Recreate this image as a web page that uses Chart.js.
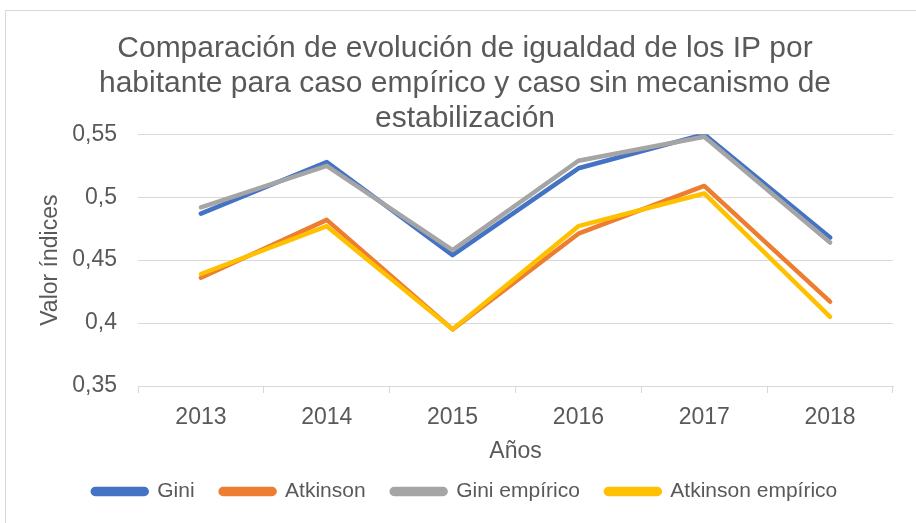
<!DOCTYPE html>
<html>
<head>
<meta charset="utf-8">
<script src="https://cdn.jsdelivr.net/npm/chart.js@4"></script>
<style>
  body { margin: 0; background: #fff; overflow: hidden; }
  #wrap { position: relative; width: 916px; height: 523px; }
  #frame { position: absolute; left: 5px; top: 10px; width: 1000px; height: 1000px; border: 1px solid #d9d9d9; }
  canvas { position: absolute; left: 0; top: 0; }
</style>
</head>
<body>
<div id="wrap">
  <div id="frame"></div>
  <canvas id="lineChart" width="916" height="523"></canvas>
</div>
<script>
const years = ["2013", "2014", "2015", "2016", "2017", "2018"];
const gini = [0.487, 0.528, 0.454, 0.523, 0.550, 0.468];
const atkinson = [0.436, 0.482, 0.395, 0.471, 0.509, 0.417];
const giniEmpirico = [0.492, 0.525, 0.458, 0.529, 0.548, 0.464];
const atkinsonEmpirico = [0.439, 0.477, 0.395, 0.477, 0.503, 0.405];

const textColor = "#595959";
const gridColor = "#d9d9d9";
const font = "Liberation Sans, Arial, sans-serif";

function line(label, values, color, order) {
    return {
        label: label,
        data: values,
        borderColor: color,
        backgroundColor: color,
        borderWidth: 4.5,
        borderCapStyle: "round",
        borderJoinStyle: "round",
        pointRadius: 0,
        pointHoverRadius: 0,
        tension: 0,
        order: order,
    };
}

const ctx = document.getElementById("lineChart").getContext("2d");
new Chart(ctx, {
    type: "line",
    data: {
        labels: years,
        datasets: [
            line("Gini", gini, "#4472C4", 4),
            line("Atkinson", atkinson, "#ED7D31", 3),
            line("Gini empírico", giniEmpirico, "#A5A5A5", 2),
            line("Atkinson empírico", atkinsonEmpirico, "#FFC000", 1),
        ],
    },
    options: {
        responsive: false,
        animation: false,
        layout: { padding: { left: 37, right: 23, top: 31, bottom: 11 } },
        plugins: {
            tooltip: { enabled: false },
            title: {
                display: true,
                text: [
                    "Comparación de evolución de igualdad de los IP por",
                    "habitante para caso empírico y caso sin mecanismo de",
                    "estabilización",
                ],
                color: textColor,
                font: { family: font, size: 30, weight: "normal", lineHeight: 1.17 },
                padding: { top: 0, bottom: -2 },
            },
            legend: {
                position: "bottom",
                labels: {
                    color: textColor,
                    font: { family: font, size: 21 },
                    boxWidth: 54,
                    boxHeight: 5,
                    padding: 26,
                    useBorderRadius: true,
                    borderRadius: 2.5,
                    sort: (a, b) => a.datasetIndex - b.datasetIndex,
                },
            },
        },
        scales: {
            x: {
                offset: true,
                afterFit: (scale) => { scale.height = 69; },
                grid: {
                    offset: true,
                    drawOnChartArea: false,
                    drawTicks: true,
                    tickLength: 7,
                    color: gridColor,
                },
                border: { color: gridColor, width: 1 },
                ticks: { color: textColor, font: { family: font, size: 23 }, padding: 11, maxRotation: 0 },
                title: {
                    display: true,
                    text: "Años",
                    color: textColor,
                    font: { family: font, size: 23 },
                    padding: { top: 0, bottom: -10 },
                },
            },
            y: {
                min: 0.35,
                max: 0.55,
                afterFit: (scale) => { scale.width = 101; },
                ticks: {
                    stepSize: 0.05,
                    color: textColor,
                    font: { family: font, size: 23 },
                    padding: 21,
                    callback: (v) => String(Number(v.toFixed(2))).replace(".", ","),
                },
                grid: { color: gridColor, drawTicks: false },
                border: { display: false },
                title: {
                    display: true,
                    text: "Valor índices",
                    color: textColor,
                    font: { family: font, size: 23 },
                    padding: { top: 0, bottom: 0 },
                },
            },
        },
    },
});
</script>
</body>
</html>
